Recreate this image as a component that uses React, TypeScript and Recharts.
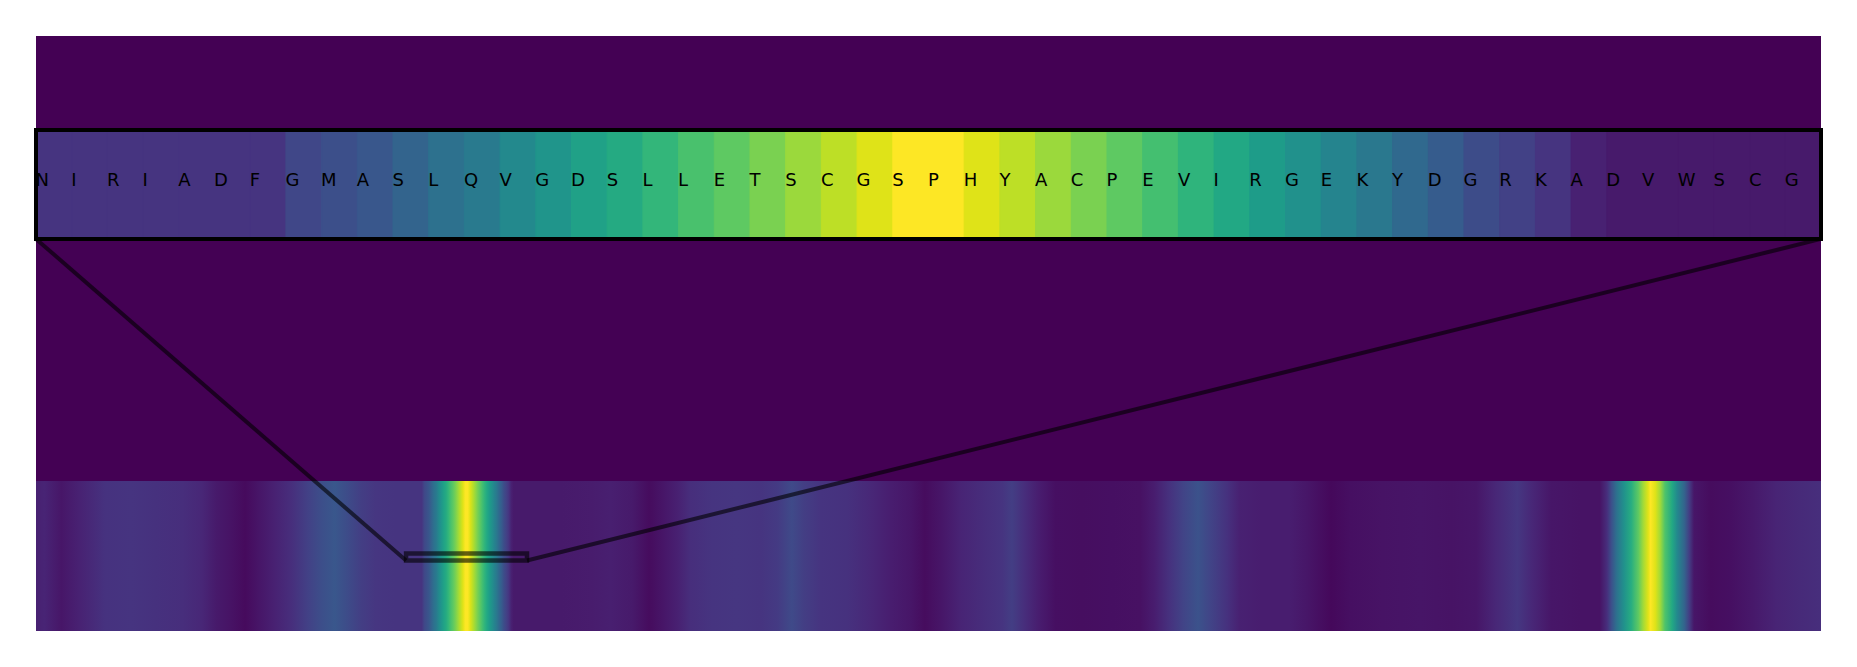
import React from 'react';
import { ComposedChart, Bar, Cell, XAxis, YAxis, ReferenceArea, ReferenceLine, LabelList } from 'recharts';

// zoomed window: one residue per cell
const residues = [
  'N', 'I', 'R', 'I', 'A', 'D', 'F', 'G', 'M', 'A', 'S', 'L', 'Q', 'V', 'G', 'D', 'S',
  'L', 'L', 'E', 'T', 'S', 'C', 'G', 'S', 'P', 'H', 'Y', 'A', 'C', 'P', 'E', 'V',
  'I', 'R', 'G', 'E', 'K', 'Y', 'D', 'G', 'R', 'K', 'A', 'D', 'V', 'W', 'S', 'C', 'G',
];

const windowLevels = [
  0.15, 0.15, 0.15, 0.15, 0.15, 0.15, 0.15, 0.21, 0.24, 0.27, 0.32, 0.37, 0.41, 0.47, 0.52, 0.57, 0.61,
  0.66, 0.71, 0.75, 0.8, 0.85, 0.9, 0.95, 1.0, 1.0, 0.95, 0.9, 0.85, 0.8, 0.75, 0.7, 0.65,
  0.6, 0.55, 0.5, 0.45, 0.4, 0.34, 0.29, 0.23, 0.19, 0.15, 0.09, 0.07, 0.07, 0.07, 0.07, 0.07, 0.07,
];

// full-length profile outside the window: [residue, level]
const heatProfile: [number, number][] = [
  [0, 0.09], [3, 0.1], [10, 0.06], [17, 0.09], [23, 0.12], [28, 0.145], [39, 0.15], [49, 0.14],
  [60, 0.13], [68, 0.11], [74, 0.07], [80, 0.05], [86, 0.025], [92, 0.06], [98, 0.09], [105, 0.13],
  [112, 0.19], [118, 0.24], [123, 0.27], [128, 0.23], [134, 0.18], [140, 0.155], [148, 0.15],
  [206, 0.07], [217, 0.07], [229, 0.075], [237, 0.085], [246, 0.07], [253, 0.03], [259, 0.06],
  [265, 0.09], [270, 0.13], [279, 0.15], [289, 0.155], [299, 0.15], [306, 0.17], [312, 0.22],
  [317, 0.18], [324, 0.15], [335, 0.14], [345, 0.11], [353, 0.08], [361, 0.06], [367, 0.03],
  [374, 0.06], [382, 0.1], [392, 0.13], [399, 0.15], [403, 0.18], [408, 0.13], [414, 0.08],
  [421, 0.04], [432, 0.035], [444, 0.04], [456, 0.045], [462, 0.08], [468, 0.14], [474, 0.2],
  [480, 0.25], [485, 0.2], [492, 0.14], [497, 0.09], [506, 0.08], [518, 0.08], [525, 0.06],
  [535, 0.02], [543, 0.04], [556, 0.05], [572, 0.055], [585, 0.05], [595, 0.06], [603, 0.11],
  [612, 0.16], [618, 0.11], [626, 0.06], [638, 0.05], [646, 0.05], [649, 0.13], [651, 0.25],
  [653, 0.37], [656, 0.5], [659, 0.62], [662, 0.75], [664, 0.86], [666, 0.95], [667, 1.0],
  [669, 0.95], [671, 0.86], [673, 0.72], [676, 0.6], [678, 0.47], [681, 0.32], [683, 0.18],
  [685, 0.06], [692, 0.03], [700, 0.04], [709, 0.065], [719, 0.1], [729, 0.12], [737, 0.13],
];

const SEQ_LEN = 738;
const WINDOW_START = 153;

// vertical layout in axis units (0 = bottom of plot, 1 = top)
const HEAT_TOP = 0.252;
const STRIP_LO = 0.659;
const STRIP_HI = 0.842;
const MARK_LO = 0.1185;
const MARK_HI = 0.1303;

const VIRIDIS = [
  '#440154', '#471365', '#482475', '#463480', '#414487', '#3b528b', '#355f8d',
  '#2f6c8e', '#2a788e', '#25848e', '#21918c', '#1e9c89', '#22a884', '#2fb47c',
  '#44bf70', '#5ec962', '#7ad151', '#9bd93c', '#bddf26', '#dfe318', '#fde725',
];

function viridis(t: number) {
  const c = Math.min(1, Math.max(0, t)) * (VIRIDIS.length - 1);
  const i = Math.min(Math.floor(c), VIRIDIS.length - 2);
  const f = c - i;
  const a = VIRIDIS[i];
  const b = VIRIDIS[i + 1];
  const ch = (h: string, k: number) => parseInt(h.slice(1 + 2 * k, 3 + 2 * k), 16);
  const mix = [0, 1, 2].map((k) => Math.round(ch(a, k) + (ch(b, k) - ch(a, k)) * f));
  return `rgb(${mix[0]},${mix[1]},${mix[2]})`;
}

const cells = residues.map((aa, i) => ({ pos: i, residue: WINDOW_START + i, aa, level: windowLevels[i] }));

const heatStops = [
  ...heatProfile,
  ...windowLevels.map((v, i) => [WINDOW_START + i, v] as [number, number]),
].sort((a, b) => a[0] - b[0]);

const renderLetter = (props: any) => {
  const vb = props.viewBox || props;
  const x = Number(vb.x ?? props.x);
  const y = Number(vb.y ?? props.y);
  const h = Math.abs(Number(vb.height ?? props.height));
  return (
    <text x={x - 0.5} y={y + h / 2 + 1.5} fontFamily="DejaVu Sans" fontSize={18} fill="#000">
      {props.value}
    </text>
  );
};

export default function App() {
  return (
    <div style={{ position: 'absolute', left: 0, top: 0, width: 1857, height: 667, background: '#fff' }}>
      <ComposedChart
        width={1857}
        height={667}
        data={cells}
        margin={{ top: 36, right: 36, bottom: 36, left: 36 }}
        barCategoryGap={0}
        barGap={0}
      >
        <defs>
          <linearGradient id="heatGrad" x1="0" y1="0" x2="1" y2="0">
            {heatStops.map(([r, v]) => (
              <stop key={r} offset={(r + 0.5) / SEQ_LEN} stopColor={viridis(v)} />
            ))}
          </linearGradient>
        </defs>
        <XAxis xAxisId="seq" dataKey="pos" type="category" hide />
        <XAxis xAxisId="res" dataKey="residue" type="number" domain={[0, SEQ_LEN]} hide allowDataOverflow />
        <YAxis type="number" domain={[0, 1]} hide allowDataOverflow />

        <ReferenceArea xAxisId="res" x1={0} x2={SEQ_LEN} y1={0} y2={1} fill="#440154" fillOpacity={1} stroke="none" />
        <ReferenceArea xAxisId="res" x1={0} x2={SEQ_LEN} y1={0} y2={HEAT_TOP} fill="url(#heatGrad)" fillOpacity={1} stroke="none" />

        <Bar xAxisId="seq" dataKey={() => [STRIP_LO, STRIP_HI]} isAnimationActive={false}>
          {cells.map((c) => (
            <Cell key={c.pos} fill={viridis(c.level)} stroke={viridis(c.level)} strokeWidth={1} />
          ))}
          <LabelList dataKey="aa" content={renderLetter} />
        </Bar>

        <ReferenceLine
          xAxisId="res"
          segment={[{ x: WINDOW_START, y: MARK_LO }, { x: 0, y: STRIP_LO }]}
          stroke="#000"
          strokeOpacity={0.6}
          strokeWidth={4}
        />
        <ReferenceLine
          xAxisId="res"
          segment={[{ x: WINDOW_START + residues.length, y: MARK_LO }, { x: SEQ_LEN, y: STRIP_LO }]}
          stroke="#000"
          strokeOpacity={0.6}
          strokeWidth={4}
        />
        <ReferenceArea
          xAxisId="res"
          x1={WINDOW_START}
          x2={WINDOW_START + residues.length}
          y1={MARK_LO}
          y2={MARK_HI}
          fill="none"
          stroke="#000"
          strokeOpacity={0.6}
          strokeWidth={4.5}
        />
        <ReferenceArea
          xAxisId="res"
          x1={0}
          x2={SEQ_LEN}
          y1={STRIP_LO}
          y2={STRIP_HI}
          fill="none"
          stroke="#000"
          strokeWidth={4}
          zIndex={500}
        />
      </ComposedChart>
    </div>
  );
}
